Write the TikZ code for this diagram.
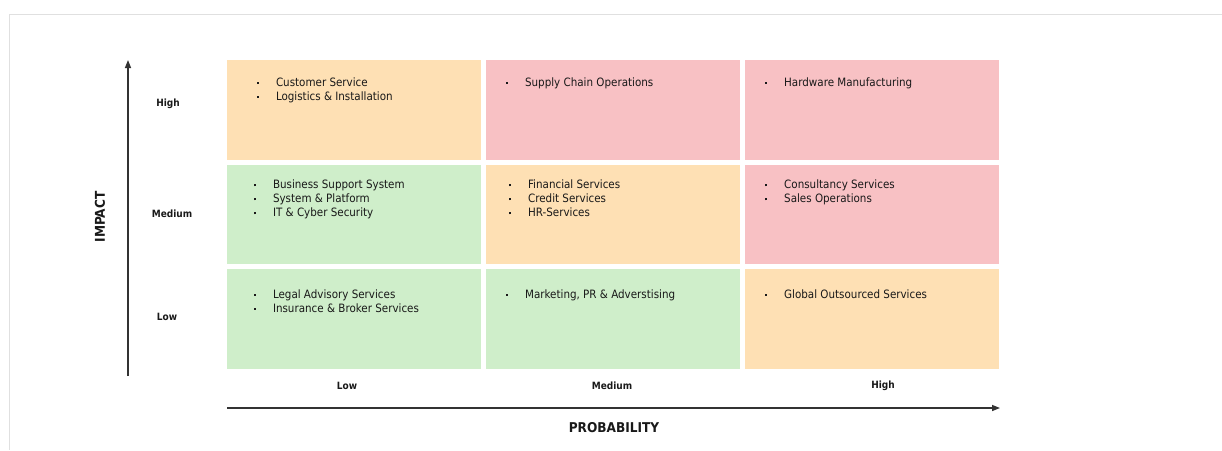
\documentclass[tikz,border=0pt]{standalone}
\usepackage{fontspec}
\setmainfont{DejaVu Sans Condensed}
\usetikzlibrary{arrows.meta,positioning}

\definecolor{riskamber}{RGB}{254,224,180}
\definecolor{riskred}{RGB}{248,193,196}
\definecolor{riskgreen}{RGB}{207,238,202}

\newcommand{\bul}{\makebox[19pt][l]{\rule[2.5pt]{2.2pt}{2.2pt}}}

\begin{document}
\begin{tikzpicture}[
                        x=1pt, y=-1pt,
                        >={Triangle[length=8pt,width=6pt]},
                        node distance=4.5pt,
                        semithick
                    ]
                    \tikzstyle{cellbox}=[rectangle,minimum width=254pt,minimum height=99.5pt,inner sep=0pt]
                    \tikzstyle{celltext}=[align=left,inner sep=0pt,text=black!90,font=\fontsize{11.5}{14}\selectfont]
                    \tikzstyle{ticklabel}=[text=black!90,font=\bfseries\fontsize{10}{12}\selectfont]
                    \tikzstyle{axistitle}=[text=black!90,font=\bfseries\fontsize{13.5}{15}\selectfont]
                    \tikzstyle{axisline}=[->,line width=1.4pt,draw=black!80]

                    \useasboundingbox (0,0) rectangle (1222,450);
                    \draw[black!12,line width=1pt] (9,450) -- (9,14) -- (1222,14);

                    % matrix cells
                    \node[cellbox,fill=riskamber] (c11) at (354,109.75) {};
                    \node[cellbox,fill=riskred]   (c12) [right=of c11] {};
                    \node[cellbox,fill=riskred]   (c13) [right=of c12] {};
                    \node[cellbox,fill=riskgreen] (c21) [below=of c11] {};
                    \node[cellbox,fill=riskamber] (c22) [right=of c21] {};
                    \node[cellbox,fill=riskred]   (c23) [right=of c22] {};
                    \node[cellbox,fill=riskgreen] (c31) [below=of c21] {};
                    \node[cellbox,fill=riskgreen] (c32) [right=of c31] {};
                    \node[cellbox,fill=riskamber] (c33) [right=of c32] {};

                    % cell contents
                    \node[celltext] (t11) [below right=17.5pt and 30pt of c11.north west]
                        {\bul Customer Service\\\bul Logistics \& Installation};
                    \node[celltext] (t12) [below right=17.5pt and 20pt of c12.north west]
                        {\bul Supply Chain Operations};
                    \node[celltext] (t13) [below right=17.5pt and 20pt of c13.north west]
                        {\bul Hardware Manufacturing};
                    \node[celltext] (t21) [below right=15.5pt and 27pt of c21.north west]
                        {\bul Business Support System\\\bul System \& Platform\\\bul IT \& Cyber Security};
                    \node[celltext] (t22) [below right=15.5pt and 23pt of c22.north west]
                        {\bul Financial Services\\\bul Credit Services\\\bul HR-Services};
                    \node[celltext] (t23) [below right=15.5pt and 20pt of c23.north west]
                        {\bul Consultancy Services\\\bul Sales Operations};
                    \node[celltext] (t31) [below right=20.5pt and 27pt of c31.north west]
                        {\bul Legal Advisory Services\\\bul Insurance \& Broker Services};
                    \node[celltext] (t32) [below right=20.5pt and 20pt of c32.north west]
                        {\bul Marketing, PR \& Adverstising};
                    \node[celltext] (t33) [below right=20.5pt and 20pt of c33.north west]
                        {\bul Global Outsourced Services};

                    % axis levels
                    \node[ticklabel] (yhigh) at (168,104) {High};
                    \node[ticklabel] (ymed)  at (172,214) {Medium};
                    \node[ticklabel] (ylow)  at (167,317) {Low};
                    \node[ticklabel] (xlow)  at (347,386) {Low};
                    \node[ticklabel] (xmed)  at (612,386) {Medium};
                    \node[ticklabel] (xhigh) at (883,386) {High};

                    % axes
                    \coordinate (yfoot) at (128,376);
                    \coordinate (ytip)  at (128,60);
                    \coordinate (xfoot) at (227,408);
                    \coordinate (xtip)  at (1000,408);
                    \draw[axisline] (yfoot) -- (ytip);
                    \draw[axisline] (xfoot) -- (xtip);

                    \node[axistitle]          (prob) at (614,428) {PROBABILITY};
                    \node[axistitle,rotate=90] (imp) at (100,217) {IMPACT};
                \end{tikzpicture}
\end{document}
